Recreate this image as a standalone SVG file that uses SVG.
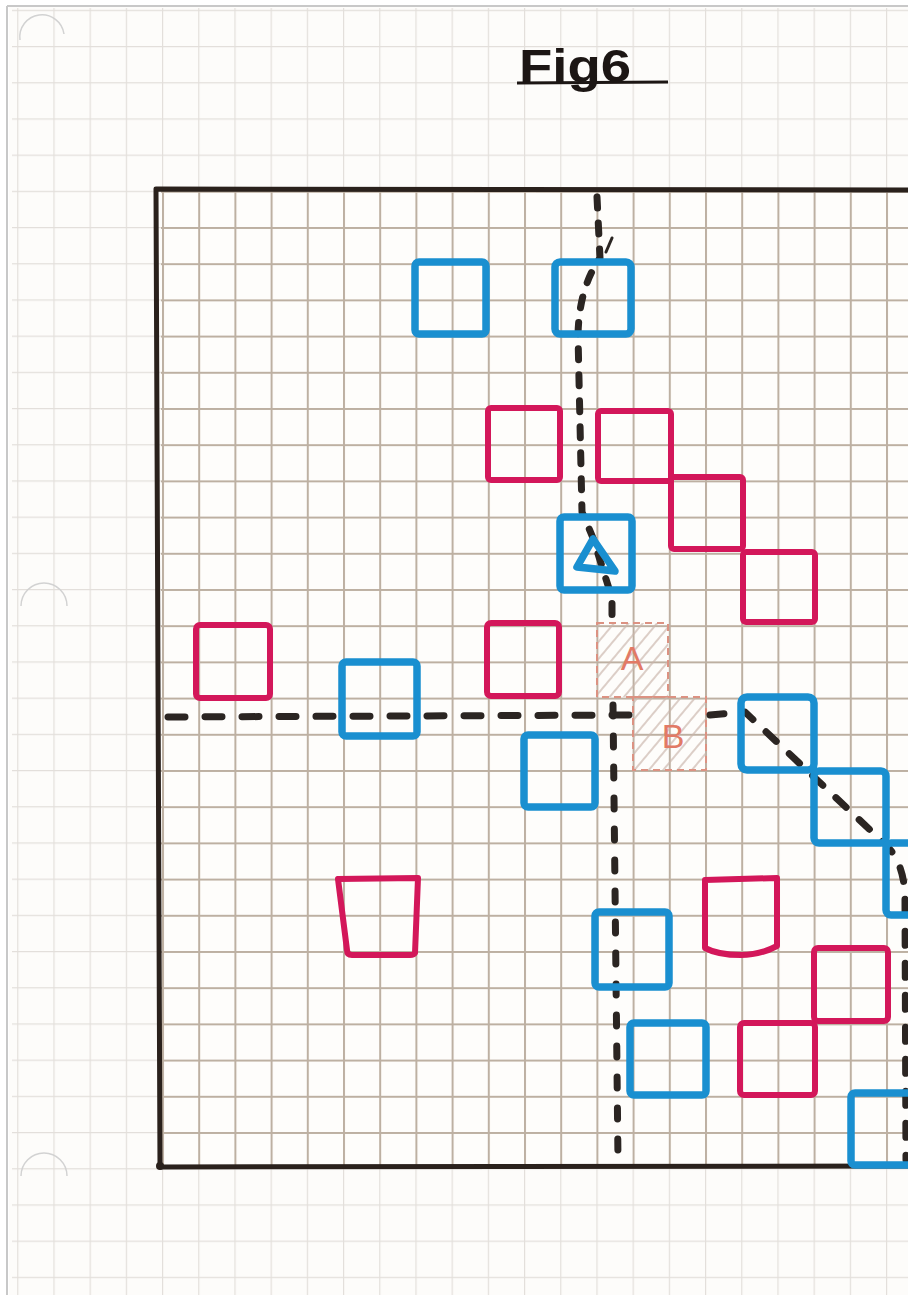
<svg xmlns="http://www.w3.org/2000/svg" width="908" height="1295" viewBox="0 0 908 1295">
  <style>
    .blue{fill:none;stroke:#1a8fd0;stroke-width:7.5;stroke-linejoin:round}
    .red{fill:none;stroke:#d3175a;stroke-width:6;stroke-linejoin:round}
    .dash{fill:none;stroke:#2b2522;stroke-width:7;stroke-linecap:round;stroke-linejoin:round}
    .hatchbox{fill:url(#hatch);stroke:#dc9282;stroke-width:2;stroke-dasharray:7 5}
    .lbl{font-family:"Liberation Sans",Arial,sans-serif;font-size:34px;fill:#e27a66}
    .title{font-family:"Liberation Sans",Arial,sans-serif;font-size:46px;font-weight:bold;fill:#1c1614}
    .hole{fill:none;stroke:#d2d2d2;stroke-width:1.5}
  </style>
  <defs>
    <pattern id="paper" patternUnits="userSpaceOnUse" x="17.2" y="9.8" width="36.2" height="36.2">
      <path d="M0,0.6 H36.2 M0.6,0 V36.2" stroke="#e3dfdb" stroke-width="1.2" fill="none"/>
    </pattern>
    <pattern id="grid" patternUnits="userSpaceOnUse" x="17.2" y="9.8" width="36.2" height="36.2">
      <path d="M0,1 H36.2 M1,0 V36.2" stroke="#bdb0a2" stroke-width="2" fill="none"/>
    </pattern>
    <pattern id="hatch" patternUnits="userSpaceOnUse" width="11" height="11" patternTransform="rotate(40)">
      <line x1="2" y1="0" x2="2" y2="11" stroke="#c9b5ab" stroke-width="1.3"/>
    </pattern>
  </defs>

  <!-- paper -->
  <rect x="0" y="0" width="908" height="1295" fill="#ffffff"/>
  <rect x="9" y="7" width="899" height="1288" fill="#fdfcfa"/>
  <rect x="12" y="8" width="896" height="1287" fill="url(#paper)"/>
  <path d="M7,6 H908 M7,6 V1295" stroke="#c8c8c8" stroke-width="2" fill="none"/>
  <path class="hole" d="M20,40 A22,22 0 0 1 64,34"/>
  <path class="hole" d="M21,606 A23,23 0 0 1 67,606"/>
  <path class="hole" d="M21,1176 A23,23 0 0 1 67,1176"/>

  <!-- title -->
  <g id="title">
    <text class="title" x="519" y="82" textLength="112" lengthAdjust="spacingAndGlyphs">Fig6</text>
    <path d="M517,83 L668,82" stroke="#1c1614" stroke-width="3" fill="none"/>
  </g>

  <!-- plot frame with grid -->
  <g id="frame">
    <rect x="161" y="191" width="747" height="975" fill="#fefdfb"/>
    <rect x="161" y="191" width="747" height="975" fill="url(#grid)"/>
    <path d="M908,190 L156,189 L160,1167 L908,1166" fill="none" stroke="#2a211c" stroke-width="5" stroke-linejoin="round"/>
    <circle cx="160" cy="1166" r="4" fill="#2a211c"/>
  </g>

  <!-- hatched cells -->
  <g id="cellA">
    <rect class="hatchbox" x="597" y="623" width="71" height="74"/>
    <text class="lbl" x="632" y="670" text-anchor="middle">A</text>
  </g>
  <g id="cellB">
    <rect class="hatchbox" x="633" y="697" width="73" height="73"/>
    <text class="lbl" x="673" y="748" text-anchor="middle">B</text>
  </g>

  <!-- connectors -->
  <g id="connectors">
    <path class="dash" stroke-dasharray="11 15" d="M597,197 L600,258 Q579,288 578,335 L582,512 L593,538 L612,598 L612,618"/>
    <path class="dash" stroke-dasharray="11 20" d="M613,705 L618,1160"/>
    <path class="dash" stroke-dasharray="17 20" d="M168,717 L633,715"/>
    <path class="dash" stroke-dasharray="14 18" d="M710,715 L745,712 L884,843 Q905,862 905,900 L906,1160"/>
    <path d="M606,252 L612,238" stroke="#2b2522" stroke-width="3" stroke-linecap="round" fill="none"/>
  </g>

  <!-- blue squares -->
  <g id="b1"><rect class="blue" x="415" y="262" width="71" height="72" rx="4"/></g>
  <g id="b2"><rect class="blue" x="555" y="262" width="76" height="72" rx="5"/></g>
  <g id="b3"><rect class="blue" x="560" y="517" width="72" height="73" rx="4"/><polygon class="blue" stroke-width="8.5" points="593,539 577,567 615,571"/></g>
  <g id="b4"><rect class="blue" x="342" y="662" width="75" height="74" rx="4"/></g>
  <g id="b5"><rect class="blue" x="524" y="735" width="71" height="72" rx="4"/></g>
  <g id="b6"><rect class="blue" x="741" y="697" width="73" height="73" rx="6"/></g>
  <g id="b7"><rect class="blue" x="814" y="771" width="72" height="72" rx="5"/></g>
  <g id="b8"><rect class="blue" x="886" y="843" width="73" height="72" rx="5"/></g>
  <g id="b9"><rect class="blue" x="595" y="912" width="74" height="75" rx="4"/></g>
  <g id="b10"><rect class="blue" x="630" y="1023" width="76" height="72" rx="4"/></g>
  <g id="b11"><rect class="blue" x="851" y="1093" width="80" height="72" rx="4"/></g>

  <!-- red squares -->
  <g id="r1"><rect class="red" x="488" y="408" width="72" height="72" rx="3"/></g>
  <g id="r2"><rect class="red" x="598" y="411" width="73" height="70" rx="3"/></g>
  <g id="r3"><rect class="red" x="671" y="477" width="72" height="72" rx="3"/></g>
  <g id="r4"><rect class="red" x="743" y="552" width="72" height="70" rx="3"/></g>
  <g id="r5"><rect class="red" x="196" y="625" width="74" height="73" rx="4"/></g>
  <g id="r6"><rect class="red" x="487" y="623" width="72" height="73" rx="4"/></g>
  <g id="r7"><path class="red" d="M338,879 L418,878 L415,953 Q414,955 410,955 L352,955 Q347,955 347,950 Z"/></g>
  <g id="r8"><path class="red" d="M705,880 L777,878 L777,946 Q760,955 741,955 Q718,955 705,948 Z"/></g>
  <g id="r9"><rect class="red" x="814" y="948" width="74" height="73" rx="4"/></g>
  <g id="r10"><rect class="red" x="740" y="1023" width="75" height="72" rx="4"/></g>
</svg>
